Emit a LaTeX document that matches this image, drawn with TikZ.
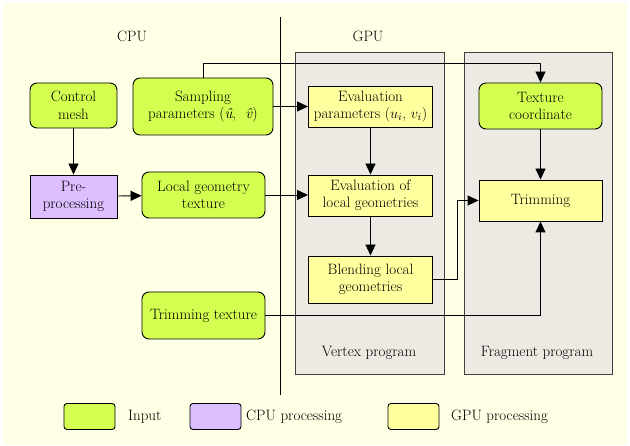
\documentclass[tikz,border=0pt]{standalone}
\usetikzlibrary{arrows.meta}
\definecolor{bgcream}{HTML}{FFFFE6}
\definecolor{ingreen}{HTML}{D4FF50}
\definecolor{cpupurple}{HTML}{DDBEFF}
\definecolor{gpuyellow}{HTML}{FFFF9E}
\definecolor{panelgray}{HTML}{ECEAE2}
\begin{document}
\begin{tikzpicture}[x=1pt,y=-1pt,
  font=\fontsize{15}{17.5}\selectfont,
  every node/.style={align=center,inner sep=0pt},
  inbox/.style={draw,line width=0.9pt,fill=ingreen,rounded corners=7pt},
  cpubox/.style={draw,line width=0.9pt,fill=cpupurple},
  gpubox/.style={draw,line width=0.9pt,fill=gpuyellow},
  panel/.style={draw=black!75,line width=0.9pt,fill=panelgray},
  arr/.style={line width=0.9pt,-{Triangle[length=11pt,width=10pt]}}]
\useasboundingbox (0,0) rectangle (630,446);
\fill[bgcream] (3,3) rectangle (627,445);
\draw[panel] (295,52) rectangle (444,374);
\draw[panel] (464,52) rectangle (612,374);
\draw[line width=0.9pt] (280,17) -- (280,395);
\node (cpu) at (132,36) {CPU};
\node (gpu) at (368,36) {GPU};
\node (vtx) at (369,353) {Vertex program};
\node (frg) at (537,353) {Fragment program};
\node[inbox,minimum width=87pt,minimum height=45pt] (ctrl) at (73.5,105.5) {Control\\mesh};
\node[inbox,minimum width=140pt,minimum height=57pt] (samp) at (203,106.5) {Sampling\\parameters (\textit{\^u},~ \textit{\^v})};
\node[cpubox,minimum width=87pt,minimum height=43pt] (pre) at (73.5,196.5) {Pre-\\processing};
\node[inbox,minimum width=123pt,minimum height=46pt] (lgt) at (203.5,195) {Local geometry\\texture};
\node[inbox,minimum width=123pt,minimum height=47pt] (trt) at (203.5,315.5) {Trimming texture};
\node[gpubox,minimum width=124pt,minimum height=41pt] (evp) at (370.5,106.5) {Evaluation\\parameters ($u_i$, $v_i$)};
\node[gpubox,minimum width=124pt,minimum height=41pt] (evl) at (370.5,195.5) {Evaluation of\\local geometries};
\node[gpubox,minimum width=124pt,minimum height=47pt] (bld) at (370.5,279.5) {Blending local\\geometries};
\node[inbox,minimum width=123pt,minimum height=46pt] (txc) at (540.5,106) {Texture\\coordinate};
\node[gpubox,minimum width=123pt,minimum height=41pt] (trm) at (540.5,200.5) {Trimming};
\draw[arr] (ctrl) -- (pre);
\draw[arr] (pre) -- (lgt);
\draw[arr] (lgt.east) -- (evl.west |- lgt.east);
\draw[arr] (samp.east) -- (evp.west |- samp.east);
\draw[arr] (samp.north) -- ++(0,-14) -| (txc.north);
\draw[arr] (evp) -- (evl);
\draw[arr] (evl) -- (bld);
\draw[arr] (txc) -- (trm);
\draw[arr] (bld.east) -- ++(24,0) |- (trm.west);
\draw[arr] (trt.east) -| (trm.south);
\foreach \x/\tx/\s/\t/\n in {89.5/128/inbox/Input/inp,215.5/246/cpubox/CPU processing/cpp,413.5/451/gpubox/GPU processing/gpp}{
  \node[\s,minimum width=51pt,minimum height=26pt,rounded corners=3pt] (leg\n) at (\x,416.5) {};
  \node[anchor=west] (txt\n) at (\tx,416.5) {\t};
}
\end{tikzpicture}
\end{document}
